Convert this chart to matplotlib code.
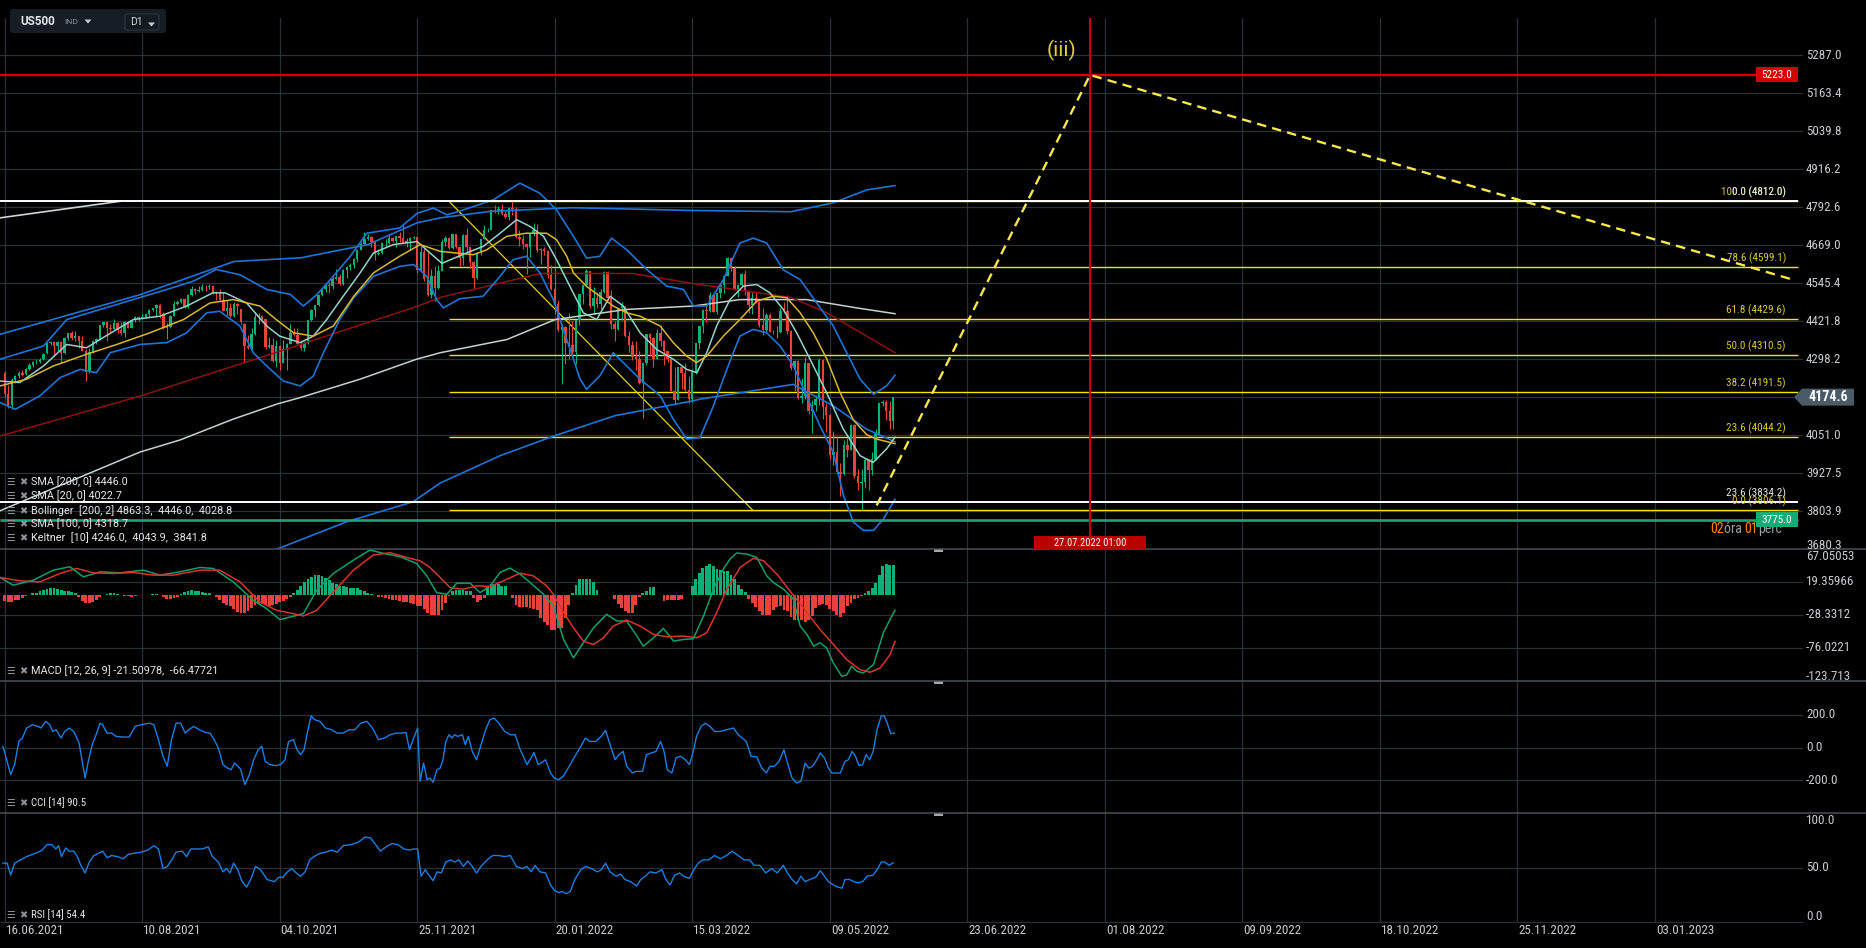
import numpy as np
import matplotlib
matplotlib.use('Agg')
import matplotlib.pyplot as plt
from matplotlib.patches import Rectangle, Polygon, FancyBboxPatch

plt.rcParams['font.family'] = ['Roboto', 'DejaVu Sans']
COND = ['Roboto Condensed', 'Liberation Sans Narrow', 'Roboto', 'DejaVu Sans']

# ---------------- data ----------------
# daily candles, bar 0 = 16.06.2021
opens = [4254, 4185, 4148, 4230, 4242, 4252, 4250, 4266, 4280, 4288,
         4290, 4298, 4318, 4350, 4354, 4340, 4354, 4318, 4366, 4382,
         4366, 4372, 4358, 4326, 4256, 4320, 4356, 4364, 4408, 4418,
         4398, 4396, 4416, 4392, 4384, 4420, 4400, 4426, 4434, 4430,
         4434, 4444, 4458, 4464, 4476, 4446, 4398, 4404, 4440, 4478,
         4484, 4494, 4468, 4506, 4526, 4520, 4522, 4534, 4532, 4536,
         4518, 4512, 4492, 4456, 4466, 4440, 4478, 4460, 4414, 4340,
         4336, 4380, 4434, 4440, 4428, 4338, 4344, 4292, 4342, 4286,
         4330, 4348, 4384, 4376, 4348, 4336, 4350, 4424, 4458, 4474,
         4506, 4526, 4540, 4536, 4558, 4566, 4542, 4588, 4598, 4606,
         4624, 4654, 4674, 4690, 4696, 4678, 4640, 4644, 4676, 4676,
         4694, 4682, 4698, 4692, 4676, 4684, 4694, 4696, 4588, 4648,
         4560, 4506, 4570, 4530, 4586, 4680, 4694, 4660, 4704, 4662,
         4628, 4702, 4662, 4614, 4562, 4642, 4690, 4718, 4720, 4784,
         4780, 4786, 4772, 4760, 4790, 4788, 4696, 4690, 4672, 4664,
         4706, 4720, 4654, 4658, 4650, 4572, 4528, 4478, 4394, 4404,
         4352, 4344, 4320, 4426, 4510, 4540, 4584, 4472, 4496, 4478,
         4516, 4582, 4498, 4412, 4396, 4466, 4470, 4374, 4344, 4304,
         4300, 4220, 4284, 4380, 4368, 4300, 4382, 4358, 4324, 4300,
         4196, 4166, 4272, 4254, 4198, 4168, 4256, 4352, 4406, 4458,
         4456, 4506, 4450, 4514, 4538, 4570, 4626, 4596, 4526, 4540,
         4576, 4520, 4476, 4496, 4484, 4408, 4392, 4442, 4388, 4386,
         4388, 4456, 4454, 4390, 4268, 4292, 4172, 4178, 4284, 4128,
         4150, 4170, 4296, 4142, 4118, 3986, 3996, 3932, 3926, 4020,
         4004, 4084, 3918, 3896, 3898, 3970, 3938, 3974, 4054, 4154,
         4160, 4128, 4098]
highs = [4258, 4215, 4236, 4248, 4258, 4262, 4270, 4284, 4292, 4298,
         4302, 4318, 4352, 4358, 4358, 4358, 4356, 4370, 4384, 4390,
         4390, 4374, 4374, 4330, 4334, 4358, 4368, 4410, 4420, 4420,
         4414, 4428, 4418, 4420, 4422, 4422, 4428, 4438, 4438, 4444,
         4448, 4460, 4466, 4478, 4478, 4452, 4416, 4442, 4488, 4490,
         4498, 4496, 4510, 4536, 4530, 4536, 4544, 4540, 4542, 4538,
         4520, 4526, 4518, 4490, 4482, 4484, 4482, 4462, 4416, 4378,
         4400, 4450, 4448, 4442, 4430, 4370, 4368, 4360, 4344, 4360,
         4350, 4414, 4398, 4400, 4362, 4358, 4426, 4462, 4476, 4508,
         4530, 4542, 4550, 4564, 4590, 4574, 4590, 4600, 4612, 4628,
         4658, 4678, 4712, 4706, 4700, 4680, 4656, 4680, 4690, 4706,
         4696, 4700, 4712, 4736, 4692, 4696, 4700, 4698, 4666, 4660,
         4646, 4590, 4600, 4606, 4688, 4700, 4696, 4706, 4706, 4664,
         4706, 4724, 4664, 4616, 4646, 4690, 4734, 4724, 4784, 4800,
         4798, 4802, 4780, 4792, 4812, 4792, 4720, 4702, 4674, 4708,
         4742, 4738, 4660, 4664, 4652, 4606, 4596, 4490, 4412, 4406,
         4448, 4422, 4426, 4510, 4540, 4590, 4586, 4534, 4516, 4526,
         4584, 4584, 4522, 4422, 4466, 4484, 4472, 4390, 4356, 4356,
         4324, 4290, 4380, 4384, 4370, 4396, 4410, 4360, 4326, 4302,
         4272, 4272, 4274, 4286, 4242, 4266, 4352, 4406, 4460, 4476,
         4516, 4508, 4514, 4540, 4570, 4632, 4628, 4600, 4544, 4578,
         4588, 4522, 4516, 4516, 4486, 4466, 4448, 4448, 4392, 4406,
         4466, 4484, 4506, 4392, 4296, 4294, 4236, 4304, 4286, 4166,
         4180, 4302, 4298, 4154, 4120, 4064, 4046, 3960, 4034, 4042,
         4086, 4086, 3942, 3940, 3978, 3972, 3996, 4072, 4154, 4166,
         4166, 4162, 4176]
lows = [4175, 4140, 4135, 4222, 4236, 4244, 4248, 4262, 4274, 4282,
        4285, 4296, 4316, 4344, 4310, 4326, 4286, 4316, 4362, 4362,
        4358, 4336, 4324, 4228, 4254, 4318, 4346, 4362, 4402, 4358,
        4384, 4394, 4382, 4378, 4370, 4398, 4398, 4420, 4422, 4428,
        4432, 4434, 4456, 4434, 4432, 4396, 4364, 4400, 4438, 4476,
        4480, 4466, 4464, 4504, 4510, 4518, 4520, 4520, 4528, 4510,
        4490, 4490, 4454, 4442, 4432, 4434, 4444, 4414, 4288, 4330,
        4332, 4378, 4414, 4420, 4330, 4336, 4290, 4272, 4262, 4284,
        4262, 4346, 4372, 4346, 4328, 4326, 4348, 4422, 4434, 4472,
        4504, 4516, 4514, 4528, 4556, 4540, 4540, 4562, 4588, 4596,
        4614, 4652, 4672, 4686, 4662, 4622, 4638, 4640, 4664, 4672,
        4678, 4664, 4680, 4676, 4664, 4652, 4690, 4578, 4584, 4552,
        4504, 4498, 4488, 4526, 4584, 4668, 4658, 4656, 4660, 4600,
        4606, 4644, 4594, 4526, 4560, 4638, 4688, 4712, 4718, 4774,
        4772, 4768, 4758, 4752, 4768, 4694, 4666, 4658, 4576, 4632,
        4698, 4646, 4608, 4636, 4562, 4524, 4444, 4390, 4216, 4282,
        4298, 4304, 4282, 4410, 4478, 4538, 4466, 4446, 4466, 4460,
        4514, 4490, 4396, 4358, 4394, 4424, 4370, 4322, 4294, 4262,
        4216, 4108, 4280, 4310, 4274, 4298, 4340, 4278, 4290, 4194,
        4152, 4164, 4200, 4196, 4156, 4160, 4250, 4330, 4384, 4418,
        4452, 4450, 4446, 4496, 4512, 4568, 4584, 4524, 4502, 4534,
        4508, 4448, 4446, 4482, 4404, 4376, 4388, 4386, 4380, 4366,
        4384, 4450, 4380, 4264, 4196, 4170, 4156, 4170, 4120, 4058,
        4130, 4150, 4102, 4062, 3972, 3954, 3924, 3854, 3922, 3980,
        4002, 3910, 3872, 3806, 3880, 3872, 3920, 3970, 4052, 4146,
        4100, 4070, 4070]
closes = [4185, 4150, 4230, 4242, 4252, 4248, 4266, 4280, 4288, 4290,
          4297, 4316, 4350, 4354, 4340, 4354, 4318, 4366, 4382, 4366,
          4372, 4358, 4326, 4256, 4320, 4356, 4364, 4408, 4418, 4398,
          4396, 4416, 4392, 4384, 4420, 4400, 4426, 4434, 4430, 4434,
          4444, 4458, 4464, 4476, 4446, 4398, 4404, 4440, 4478, 4484,
          4494, 4468, 4506, 4526, 4520, 4522, 4534, 4532, 4536, 4518,
          4512, 4492, 4456, 4466, 4440, 4478, 4470, 4420, 4340, 4336,
          4380, 4434, 4440, 4428, 4338, 4344, 4292, 4342, 4286, 4330,
          4348, 4384, 4376, 4348, 4336, 4350, 4424, 4458, 4474, 4506,
          4526, 4540, 4536, 4558, 4566, 4542, 4588, 4598, 4606, 4624,
          4654, 4674, 4690, 4696, 4678, 4640, 4644, 4676, 4676, 4694,
          4682, 4698, 4692, 4676, 4684, 4694, 4696, 4588, 4648, 4560,
          4506, 4570, 4530, 4586, 4680, 4694, 4660, 4704, 4662, 4628,
          4702, 4662, 4614, 4562, 4642, 4690, 4718, 4720, 4784, 4780,
          4786, 4772, 4760, 4790, 4788, 4696, 4690, 4672, 4664, 4706,
          4720, 4654, 4658, 4650, 4572, 4528, 4478, 4394, 4404, 4352,
          4344, 4320, 4426, 4510, 4540, 4584, 4472, 4496, 4478, 4516,
          4582, 4498, 4412, 4396, 4466, 4470, 4374, 4344, 4304, 4300,
          4220, 4284, 4380, 4368, 4300, 4382, 4358, 4324, 4300, 4196,
          4166, 4272, 4254, 4198, 4168, 4256, 4352, 4406, 4458, 4456,
          4506, 4450, 4514, 4538, 4570, 4626, 4596, 4526, 4540, 4576,
          4520, 4476, 4496, 4484, 4408, 4392, 4442, 4388, 4386, 4388,
          4456, 4454, 4390, 4268, 4292, 4172, 4178, 4284, 4128, 4150,
          4170, 4296, 4142, 4118, 3986, 3996, 3932, 3926, 4020, 4004,
          4084, 3918, 3896, 3898, 3970, 3938, 3974, 4054, 4154, 4160,
          4128, 4098, 4174.6]

# overlays on the price panel (bar position, value)
sma200_bars = [-1.3, 38.4, 49.7, 64.8, 77.2, 83.8, 100.8, 116.8, 123.5, 142.4, 156.1, 176.4, 195.3, 208.5, 227.4, 241.6, 252.5]
sma200_vals = [3805, 3996, 4035, 4103, 4152, 4173, 4233, 4298, 4319, 4362, 4427, 4460, 4471, 4492, 4492, 4465, 4446]
sma100_bars = [-1.3, 38.4, 77, 117, 123.5, 152, 178, 197, 201, 223, 233, 252.5]
sma100_vals = [4048, 4178, 4320, 4470, 4499, 4577, 4577, 4541, 4535, 4499, 4450, 4319]
bb_up_bars = [-1.3, 38.4, 65, 84, 103, 117, 123.5, 137.6, 161, 195, 223, 235, 244.5, 252.5]
bb_up_vals = [4379, 4508, 4616, 4628, 4671, 4742, 4758, 4779, 4791, 4782, 4778, 4807, 4849, 4863]
bb_lo_bars = [70, 79, 97, 115.8, 123.5, 140.5, 156, 173, 195, 197.2, 223.6, 235, 244.5, 252.5]
bb_lo_vals = [3650, 3688, 3769, 3834, 3895, 3984, 4049, 4114, 4162, 4168, 4216, 4146, 4070, 4029]
kel_up_bars = [-1.3, 11, 17.6, 31.8, 46, 53.5, 60, 66.7, 74.3, 81,
               84.7, 88.5, 93.2, 98, 102.7, 112, 117, 121.6, 125.4, 129.1,
               138.6, 146.1, 151.8, 156.5, 161.3, 165, 168.8, 172.1, 176.4, 182.1,
               187.7, 192.5, 195.3, 199.1, 203.8, 208.5, 212.3, 216.1, 220.8, 225.6,
               230.3, 235, 238.8, 242.6, 246.4, 250.1, 252.5]
kel_up_vals = [4298, 4341, 4427, 4476, 4525, 4552, 4590, 4573, 4525, 4509,
               4471, 4508, 4568, 4633, 4708, 4725, 4773, 4790, 4768, 4780,
               4817, 4871, 4838, 4784, 4698, 4627, 4633, 4692, 4654, 4590,
               4536, 4525, 4471, 4471, 4557, 4676, 4692, 4676, 4589, 4557,
               4481, 4406, 4319, 4233, 4184, 4211, 4246]
kel_lo_bars = [-1.3, 3, 10, 15.7, 21.4, 26, 29.9, 38.4, 46, 51.6,
               57.3, 61, 66.7, 70.5, 74.3, 79, 83.8, 87.5, 90.4, 95,
               99, 104.6, 112, 116, 119.7, 122.5, 124.4, 129.1, 135.7, 140.5,
               144.2, 148, 151.8, 155.6, 159.4, 163.2, 165, 168.8, 172.6, 176.4,
               180.2, 185.9, 189.6, 193.4, 197.2, 201, 204.8, 208.5, 212.3, 216.1,
               219.9, 223.7, 227.4, 231.2, 235, 237.9, 240.7, 243.5, 246.4, 249.2,
               252.5]
kel_lo_vals = [4157, 4135, 4179, 4238, 4265, 4254, 4319, 4346, 4352, 4384,
               4449, 4454, 4406, 4319, 4276, 4227, 4211, 4243, 4319, 4427,
               4498, 4568, 4600, 4606, 4568, 4492, 4465, 4495, 4503, 4568,
               4622, 4633, 4579, 4492, 4362, 4233, 4200, 4244, 4319, 4276,
               4233, 4179, 4103, 4038, 4043, 4146, 4265, 4373, 4395, 4384,
               4341, 4276, 4179, 4081, 3995, 3854, 3768, 3741, 3741, 3778,
               3842]
kel_mid_bars = [-1.3, 4.3, 11, 17.6, 23.2, 27, 36.5, 44, 51.6, 59,
                62.5, 68.6, 74.3, 78, 83.8, 87.5, 91.3, 96, 100.8, 104.6,
                110.2, 117, 120.6, 124, 131, 135.7, 140.5, 145.2, 149, 152.8,
                156.5, 160.3, 164.1, 167.9, 171.7, 175.4, 180.2, 184.9, 189.6, 193.4,
                196.3, 199.1, 201.9, 205.7, 209.5, 213.3, 217, 220.8, 224.6, 228.4,
                233.1, 237.8, 242.6, 246.3, 250.1, 252.5]
kel_mid_vals = [4227, 4222, 4276, 4346, 4335, 4362, 4427, 4438, 4471, 4514,
                4514, 4481, 4406, 4373, 4352, 4373, 4427, 4503, 4579, 4644,
                4671, 4681, 4644, 4610, 4644, 4665, 4708, 4752, 4730, 4698,
                4622, 4535, 4449, 4427, 4503, 4471, 4384, 4330, 4298, 4265,
                4254, 4319, 4406, 4492, 4536, 4541, 4514, 4460, 4384, 4298,
                4189, 4071, 3984, 3962, 4006, 4044]
sma20_bars = [-1.3, 6.2, 13.8, 23.2, 31.8, 41.2, 50.7, 58.2, 64.8, 72.4,
              77, 81.9, 87.5, 93.2, 99, 104.6, 112, 117.8, 123.5, 132.9,
              136.7, 142.4, 148, 153.7, 156.5, 159.4, 161.3, 165, 168.8, 172.6,
              176.4, 180.2, 185.9, 189.6, 193.4, 196.2, 199.1, 203.8, 208.5, 213.3,
              218, 221.8, 225.6, 229.3, 233.1, 236.9, 240.7, 244.5, 247.3, 250.1,
              252.5]
sma20_vals = [4211, 4233, 4276, 4314, 4346, 4384, 4427, 4481, 4492, 4471,
              4427, 4384, 4373, 4406, 4503, 4579, 4633, 4671, 4649, 4638,
              4654, 4698, 4708, 4708, 4687, 4633, 4579, 4535, 4503, 4471,
              4449, 4438, 4406, 4352, 4308, 4287, 4308, 4373, 4427, 4487,
              4503, 4498, 4449, 4384, 4300, 4190, 4100, 4052, 4038, 4030,
              4023]

# drawings
fib_levels = [100.0, 78.6, 61.8, 50.0, 38.2, 23.6, 0.0]
fib_prices = [4812.0, 4599.1, 4429.6, 4310.5, 4191.5, 4044.2, 3806.1]
fib_start_bar = 126
fib_diag_bars = [126, 212.2]
fib_diag_vals = [4812.0, 3806.1]
white_levels = [0.0, 23.6]
white_prices = [4812.0, 3834.2]
trend_bars = [-1.3, 32.8]
trend_vals = [4758, 4812]
red_level = 5223.0
green_level = 3775.0
last_price = 4174.6
proj_bars = [247.3, 307.8, 507.7]
proj_vals = [3822, 5223, 4555]
target_bar = 307.8
target_label = '27.07.2022 01:00'
wave_bar, wave_val = 299.6, 5304

# MACD panel
macd_hist = [-8, -10, -9, -7, -6, -4, -1, 1, 3, 4,
             6, 8, 9, 10, 10, 9, 8, 7, 6, 5,
             3, -2, -8, -11, -11, -9, -6, -3, 1, 2,
             3, 3, 2, 1, -1, -1, -2, -1, 0, 0,
             0, 0, 2, 2, 1, -3, -5, -5, -4, -2,
             2, 5, 7, 8, 7, 6, 5, 4, 3, 1,
             -3, -7, -11, -14, -16, -20, -24, -26, -25, -22,
             -18, -14, -12, -13, -14, -15, -14, -12, -10, -8,
             -5, -2, 3, 8, 14, 20, 24, 27, 29, 29,
             28, 25, 22, 18, 16, 14, 13, 12, 11, 11,
             10, 8, 6, 4, 2, 1, -2, -3, -4, -5,
             -6, -7, -8, -9, -10, -11, -13, -15, -16, -20,
             -26, -29, -29, -29, -21, -11, -1.5, 6, 8, 8,
             8, 6, 7, -4, -10, -6, -4, 13, 16.5, 16.5,
             16, 14, 13, 1, -4, -13.5, -17, -17, -17, -18,
             -19, -21, -33, -38, -43, -50, -50, -47, -47, -33,
             -13.5, 3.4, 15.5, 23, 23, 23, 23, 20, 8, 0,
             0, 0, 0, -5, -12, -18, -23, -25, -25, -13.5,
             -3, 3, 7, 11.6, 11.6, 1, 0, -8.7, -6, -6,
             -6, -6, -5, 0, 0, 13, 23, 32, 40, 43,
             46, 42, 38, 36, 35, 35, 30, 23, 15.5, 9,
             4.4, -5.3, -11, -17, -23, -29, -29, -28, -21, -17,
             -16, -21, -23, -30.5, -36, -36, -36, -38, -35, -30,
             -18, -14, -12, -14, -20, -23, -28, -31.5, -25.7, -16,
             -11, -5, -4, -1.5, 3, 6, 10.6, 18, 30, 43,
             46, 44.5, 44.5]
macd_bars = [-1.3, 2.4, 8.1, 13.8, 18.5, 22.3, 27, 32.7, 39.3, 44,
             49.7, 55.4, 59.2, 64.8, 70.5, 74.3, 78.1, 80.9, 84.7, 88.5,
             93.2, 98.9, 103.6, 107.4, 112.1, 116.8, 119.7, 122.5, 125.4, 128.2,
             132, 134.8, 137.7, 140.5, 143.3, 146.2, 149, 152.8, 155.6, 158.5,
             161.3, 164.1, 167, 170.7, 173.6, 176.4, 179.3, 181.1, 184, 186.8,
             189.7, 192.5, 195.3, 198.2, 201, 203.8, 205.7, 207.6, 210.4, 213.3,
             216.1, 218, 220.9, 223.7, 225.6, 227.5, 229.4, 231.2, 233.1, 235,
             237.4, 238.8, 240.2, 241.7, 243.5, 246.4, 249.2, 251.1, 252.5]
macd_vals = [25.9, 14.7, 22, 36.5, 41.4, 26.8, 34, 32.6, 36.5, 29.3,
             34.1, 40.4, 38.9, 19.6, -7.1, -19.2, -35.1, -31.3, -26.4, 7.5,
             31.7, 51, 65.6, 60.7, 55.9, 46.2, 28.3, 4, 1.7, 17.7,
             17.7, 4, 13.8, 33.2, 39.5, 30.7, 18.6, 1.7, -15.3, -63.7,
             -90.3, -68.5, -46.7, -27.4, -37, -37, -58.8, -73.4, -61.3, -47.7,
             -66.1, -63.7, -62.7, -29.8, 8.9, 38, 52.5, 61.2, 59.8, 54.9,
             28.3, 18.6, 8.9, -5.6, -44.3, -56.4, -73.4, -68.5, -75.8, -97.6,
             -116.9, -115, -102.4, -109.7, -112.1, -100, -54, -34.6, -21.5]
sig_bars = [-1.3, 4.3, 10, 15.7, 20.4, 25.1, 30.8, 36.5, 42.2, 47.8,
            55.4, 61, 66.7, 72.4, 77.1, 81.9, 84.7, 88.5, 93.2, 98.9,
            104.5, 109.3, 115, 117.8, 120.6, 123.5, 126.3, 130.1, 133.9, 137.7,
            141.4, 146.2, 149.9, 153.7, 155.6, 158.5, 161.3, 164.1, 167, 169.8,
            172.6, 176.4, 180.2, 184, 187.8, 192.5, 196.3, 199.1, 201.9, 204.8,
            208.6, 212.3, 215.2, 219, 222.7, 226.5, 231.2, 235, 238.8, 242.6,
            245.4, 248.3, 251.1, 252.5]
sig_vals = [25.9, 21, 19.6, 31.7, 39, 32.6, 31.7, 33.1, 29.3, 29.3,
            36.5, 36.5, 19.6, -9.5, -21.6, -26.4, -29.8, -21.6, 5, 36.5,
            58.3, 61.7, 53.5, 50, 40.4, 25.9, 11.4, 9, 13.8, 12.8,
            21, 32.2, 28.3, 13.8, 1.7, -24.9, -46.7, -66.1, -71, -61.3,
            -44.3, -35.6, -44.3, -56.4, -59.8, -58.8, -61.3, -54, -25, 8.9,
            40.4, 53.5, 50.1, 30.7, 6.5, -17.7, -49.1, -70.9, -92.7, -107.3,
            -111.1, -104.8, -85.5, -66.5]

# CCI panel
cci_bars = [-0.5, 1.7, 2.8, 4.0, 5.0, 6.2, 7.8, 9.5, 10.3, 11.6,
            12.8, 13.6, 14.6, 16.0, 17.0, 18.3, 19.6, 21.1, 22.8, 23.6,
            24.8, 26.1, 27.0, 27.8, 29.0, 30.3, 31.6, 33.6, 35.3, 37.0,
            38.6, 41.1, 42.3, 43.6, 44.9, 46.1, 47.3, 48.6, 49.9, 51.2,
            52.2, 53.6, 55.2, 56.9, 58.2, 59.4, 60.6, 61.9, 63.2, 64.2,
            65.2, 66.9, 68.1, 69.4, 70.6, 71.9, 72.9, 73.9, 75.2, 76.9,
            78.2, 79.5, 80.5, 81.9, 82.9, 83.9, 84.9, 85.9, 86.9, 87.9,
            89.4, 91.0, 92.7, 94.3, 96.0, 97.7, 99.3, 101.0, 102.7, 104.3,
            106.0, 107.7, 109.3, 111.0, 112.7, 113.8, 114.8, 116.0, 117.1, 117.8,
            118.8, 119.8, 120.6, 121.5, 122.6, 123.5, 124.3, 125.1, 126.0, 126.8,
            127.6, 128.5, 129.8, 130.6, 131.5, 132.6, 133.8, 135.1, 136.4, 137.6,
            138.8, 140.1, 141.8, 143.4, 144.8, 146.0, 147.1, 148.1, 149.3, 150.1,
            151.3, 152.1, 153.4, 154.8, 155.9, 157.1, 158.4, 160.1, 161.7, 163.4,
            164.7, 165.9, 167.6, 169.2, 170.4, 171.7, 173.1, 174.2, 175.4, 176.4,
            178.0, 179.2, 180.9, 182.0, 183.4, 184.7, 186.0, 187.0, 187.9, 189.2,
            190.4, 191.7, 193.0, 194.2, 195.4, 196.2, 197.5, 198.7, 200.0, 201.3,
            203.0, 204.7, 206.7, 208.0, 209.2, 210.3, 211.7, 213.3, 214.7, 216.0,
            217.0, 218.3, 219.6, 221.0, 222.0, 223.3, 224.6, 225.8, 227.0, 228.0,
            229.1, 230.3, 231.3, 232.5, 233.6, 234.6, 235.8, 237.0, 238.3, 239.3,
            240.3, 241.3, 242.3, 243.3, 244.3, 245.3, 246.3, 247.4, 248.6, 249.4,
            250.3, 251.3, 252.3]
cci_vals = [8, -165, -104, 38, 59, 120, 140, 130, 120, 161,
            140, 99, 110, 59, 99, 120, 99, 28, -186, -94,
            18, 89, 150, 140, 89, 89, 69, 65, 65, 130,
            140, 150, 140, 49, -53, -114, 49, 150, 150, 89,
            110, 130, 110, 93, 89, 49, -2, -104, -125, -135,
            -94, -131, -226, -165, -74, -13, 8, -84, -104, -110,
            -104, -74, 38, 49, -13, -43, -13, 99, 195, 171,
            161, 120, 110, 89, 89, 110, 110, 150, 161, 120,
            49, 59, 79, 89, 89, 93, -13, 59, 120, -206,
            -94, -196, -186, -212, -135, -125, -74, 38, 79, 59,
            79, 69, 79, 18, 69, -23, -74, 18, 110, 171,
            181, 150, 99, 79, 79, -2, -53, -104, -63, -29,
            -104, -94, -74, -155, -186, -196, -175, -114, -53, 8,
            59, 38, 38, 69, 106, 18, -74, -43, -23, -114,
            -155, -145, -145, -43, -33, -23, 38, -23, -135, -155,
            -63, -53, -74, -104, -13, 69, 130, 150, 130, 99,
            99, 110, 120, 79, 59, 38, -53, -57, -125, -155,
            -114, -114, -84, -13, -94, -186, -216, -206, -94, -125,
            -114, -74, -33, -63, -125, -155, -155, -155, -84, -74,
            -23, -53, -110, -104, -43, -74, -23, 110, 195, 195,
            150, 85, 90]

# RSI panel
rsi_bars = [-0.5, 0.7, 1.7, 2.8, 4.5, 6.2, 7.8, 9.5, 10.6, 12.0,
            13.3, 14.5, 15.3, 16.1, 17.3, 18.3, 19.6, 20.6, 21.6, 22.8,
            24.0, 25.3, 26.6, 27.8, 29.0, 30.3, 32.0, 33.6, 35.0, 36.6,
            38.6, 40.6, 42.3, 43.6, 44.9, 46.1, 47.4, 48.6, 50.3, 51.6,
            52.8, 54.4, 56.1, 57.7, 58.9, 60.6, 61.9, 62.9, 63.9, 64.9,
            66.1, 67.2, 68.6, 69.9, 71.1, 72.2, 73.2, 74.4, 75.5, 76.5,
            77.7, 78.9, 80.2, 81.4, 82.7, 83.9, 85.2, 86.5, 87.7, 89.4,
            91.0, 92.7, 94.3, 96.0, 98.2, 100.2, 102.2, 103.8, 105.2, 106.5,
            108.2, 109.8, 111.5, 113.2, 114.8, 116.0, 117.1, 118.1, 119.3, 120.5,
            121.5, 122.6, 123.8, 125.1, 126.5, 127.6, 128.8, 130.1, 131.3, 132.6,
            133.8, 135.1, 136.8, 138.4, 140.1, 141.8, 143.4, 145.1, 146.8, 148.1,
            149.3, 150.4, 151.8, 153.4, 154.8, 155.9, 157.1, 158.1, 159.3, 160.4,
            161.7, 163.4, 164.7, 166.4, 168.1, 169.2, 170.4, 171.7, 173.4, 174.7,
            175.9, 177.5, 179.2, 180.4, 181.7, 183.0, 184.7, 186.4, 187.5, 188.7,
            190.0, 191.4, 192.5, 194.2, 195.4, 196.7, 198.0, 199.7, 201.3, 203.0,
            204.7, 206.3, 208.0, 209.7, 211.3, 212.5, 214.2, 215.8, 217.5, 219.1,
            220.8, 222.0, 223.3, 224.6, 225.8, 227.0, 228.3, 230.0, 231.3, 232.5,
            233.6, 235.0, 236.3, 237.5, 238.3, 239.6, 240.8, 242.0, 243.3, 244.6,
            246.3, 247.4, 248.6, 249.6, 250.8, 252.0]
rsi_vals = [54, 54, 43, 54, 57, 60, 62, 64, 66, 71,
            71, 67, 70, 60, 68, 65, 65, 60, 52, 45,
            55, 61, 63, 65, 59, 61, 60, 58, 62, 63,
            64, 66, 70, 67, 49, 51, 57, 64, 65, 60,
            67, 67, 67, 69, 60, 55, 46, 49, 45, 54,
            48, 38, 32, 40, 51, 49, 45, 39, 38, 37,
            41, 41, 46, 49, 45, 42, 46, 57, 60, 63,
            64, 66, 64, 70, 71, 73, 78, 77, 71, 65,
            69, 72, 71, 67, 66, 67, 67, 42, 48, 42,
            38, 46, 45, 55, 57, 55, 57, 51, 56, 51,
            45, 51, 57, 61, 61, 60, 61, 51, 49, 51,
            46, 52, 46, 45, 34, 29, 27, 28, 26, 28,
            39, 48, 51, 49, 46, 48, 54, 46, 42, 44,
            39, 37, 33, 39, 42, 46, 45, 48, 39, 34,
            43, 45, 42, 40, 48, 54, 57, 57, 61, 58,
            61, 65, 61, 57, 57, 52, 52, 45, 49, 45,
            52, 45, 39, 35, 42, 37, 39, 41, 47, 42,
            37, 34, 32, 31, 39, 39, 37, 36, 37, 42,
            43, 48, 55, 55, 52, 54.4]

# axes labels
grid_bars = [0, 39, 78, 117, 156, 195, 234, 273, 312, 351, 390, 429, 468]
date_labels = ['16.06.2021', '10.08.2021', '04.10.2021', '25.11.2021', '20.01.2022',
               '15.03.2022', '09.05.2022', '23.06.2022', '01.08.2022', '09.09.2022',
               '18.10.2022', '25.11.2022', '03.01.2023']
price_ticks = [5287.0, 5163.4, 5039.8, 4916.2, 4792.6, 4669.0, 4545.4,
               4421.8, 4298.2, 4174.6, 4051.0, 3927.5, 3803.9, 3680.3]
macd_ticks = [67.05053, 19.35966, -28.3312, -76.0221, -123.713]
macd_tick_labels = ['67.05053', '19.35966', '-28.3312', '-76.0221', '-123.713']
cci_ticks = [200.0, 0.0, -200.0]
rsi_ticks = [100.0, 50.0, 0.0]
legend_rows = ['SMA [200, 0] 4446.0', 'SMA [20, 0] 4022.7',
               'Bollinger  [200, 2] 4863.3,  4446.0,  4028.8',
               'SMA [100, 0] 4318.7', 'Keltner  [10] 4246.0,  4043.9,  3841.8']

# ---------------- layout / style ----------------
W, H = 1866, 948
PX_BAR = 3.526
X0 = 4.7
XMIN = -X0 / PX_BAR
XMAX = (1803 - X0) / PX_BAR
LINE_END = (1798 - X0) / PX_BAR
GRID = '#283038'
TXT = '#c9cccf'
GREEN = '#10ae78'
RED = '#e8433a'

fig = plt.figure(figsize=(W / 100, H / 100), dpi=100, facecolor='black')


def panel(top, bottom, ylim, hgrid):
    a = fig.add_axes([0, 1 - bottom / H, 1803 / W, (bottom - top) / H])
    a.set_facecolor('black')
    a.set_xlim(XMIN, XMAX)
    a.set_ylim(*ylim)
    a.set_xticks([])
    a.set_yticks([])
    for s in a.spines.values():
        s.set_visible(False)
    for b in grid_bars:
        a.axvline(b, color=GRID, lw=0.9, zorder=0)
    for v in hgrid:
        a.axhline(v, color=GRID, lw=0.9, zorder=0)
    return a


ax = panel(18, 549, (3680.3, 5408.4), price_ticks[:-1])
ax_macd = panel(549, 681, (-123.713, 67.05053), macd_ticks[1:-1])
ax_cci = panel(681, 813, (-400, 408), cci_ticks)
ax_rsi = panel(813, 922, (0, 100), rsi_ticks[1:-1])

## price panel
o, h, l, c = (np.array(v, dtype=float) for v in (opens, highs, lows, closes))
idx = np.arange(len(c))
cols = np.where(c >= o, GREEN, RED)
ax.vlines(idx, l, h, colors=cols, lw=0.8, zorder=3)
ax.bar(idx, np.maximum(np.abs(c - o), 1.5), bottom=np.minimum(o, c), width=0.68,
       color=cols, lw=0, zorder=3)

for p in fib_prices:
    ax.hlines(p, fib_start_bar, LINE_END, color='#f3e600', lw=1.0, zorder=2)
ax.plot(fib_diag_bars, fib_diag_vals, color='#e6d200', lw=0.9, zorder=2)
for p in white_prices:
    ax.hlines(p, XMIN, LINE_END, color='white', lw=1.4, zorder=5)
ax.plot(trend_bars, trend_vals, color='#d0d4d6', lw=1.2, zorder=4)
ax.hlines(red_level, XMIN, LINE_END, color='#d40000', lw=1.7, zorder=5)
ax.hlines(green_level, XMIN, LINE_END, color='#0fa878', lw=1.9, zorder=5)
ax.axvline(target_bar, color='#c40000', lw=1.5, zorder=5)

ax.plot(sma200_bars, sma200_vals, color='#c4d2d2', lw=1.1, zorder=4)
ax.plot(sma100_bars, sma100_vals, color='#8e1010', lw=1.1, zorder=4)
ax.plot(bb_up_bars, bb_up_vals, color='#1d74d6', lw=1.2, zorder=4)
ax.plot(bb_lo_bars, bb_lo_vals, color='#1d74d6', lw=1.2, zorder=4)
ax.plot(kel_up_bars, kel_up_vals, color='#1d74d6', lw=1.2, zorder=4)
ax.plot(kel_lo_bars, kel_lo_vals, color='#1d74d6', lw=1.2, zorder=4)
ax.plot(kel_mid_bars, kel_mid_vals, color='#96d2cc', lw=1.1, zorder=4)
ax.plot(sma20_bars, sma20_vals, color='#d8b82c', lw=1.1, zorder=4)

ax.plot(proj_bars, proj_vals, color='#f8e84a', lw=1.7, dashes=(4, 2.6), zorder=6)
ax.text(wave_bar, wave_val, '(iii)', color='#e4ce3a', fontsize=15, ha='center',
        va='center', family=['Roboto', 'DejaVu Sans'])

## MACD
hist = np.array(macd_hist, dtype=float)
ax_macd.bar(idx, hist, width=0.8, color=np.where(hist >= 0, GREEN, RED), lw=0, zorder=2)
ax_macd.plot(macd_bars, macd_vals, color='#119e6a', lw=1.1, zorder=3)
ax_macd.plot(sig_bars, sig_vals, color='#d9342c', lw=1.1, zorder=3)

## CCI / RSI
ax_cci.plot(cci_bars, cci_vals, color='#1b7ee0', lw=1.0, zorder=3)
ax_rsi.plot(rsi_bars, rsi_vals, color='#1b7ee0', lw=1.0, zorder=3)

# ---------------- overlay (labels, tags) ----------------
ov = fig.add_axes([0, 0, 1, 1], zorder=10)
ov.set_xlim(0, W)
ov.set_ylim(H, 0)
ov.axis('off')
ov.patch.set_alpha(0)


def ypx(a, v):
    return H - a.transData.transform((0, v))[1]


def xpx(a, b):
    return a.transData.transform((b, 0))[0]


ov.hlines([549, 681, 813], 0, W, color='#4a5058', lw=1.1)
ov.hlines(922, 0, 1803, color=GRID, lw=0.9)
for y in (549, 681, 813):
    ov.add_patch(Rectangle((934, y), 9, 2.5, color='#a3a8ad', lw=0))


def rlabel(a, v, s, dy=0, **kw):
    ov.text(1806, ypx(a, v) + dy, s, color=TXT, fontsize=9.4, family=COND,
            ha='left', va='center', **kw)


for v in price_ticks:
    if v == last_price:
        continue
    rlabel(ax, v, f'{v:.1f}', dy=-4 if v == price_ticks[-1] else 0)
for v, s in zip(macd_ticks, macd_tick_labels):
    dy = 7.5 if v == macd_ticks[0] else (-4 if v == macd_ticks[-1] else 0)
    rlabel(ax_macd, v, s, dy=dy)
for v in cci_ticks:
    rlabel(ax_cci, v, f'{v:.1f}')
for v in rsi_ticks:
    dy = 8 if v == rsi_ticks[0] else (-5 if v == rsi_ticks[-1] else 0)
    rlabel(ax_rsi, v, f'{v:.1f}', dy=dy)

for b, s in zip(grid_bars, date_labels):
    ov.text(xpx(ax, b) + 1, 931, s, color=TXT, fontsize=9.4, family=COND,
            ha='left', va='center')

# fib labels
for lvl, p in zip(fib_levels, fib_prices):
    ov.text(1786, ypx(ax, p) - 3, f'{lvl:.1f} ({p:.1f})', color='#d9c935',
            fontsize=8, family=COND, ha='right', va='bottom')
for lvl, p in zip(white_levels, white_prices):
    ov.text(1786, ypx(ax, p) - 3, f'{lvl:.1f} ({p:.1f})', color='#e2e4e6',
            fontsize=8, family=COND, ha='right', va='bottom')

# countdown text (partly under the green tag)
renderer = fig.canvas.get_renderer()
cx = 1710
for s, col in [('02', '#ff8a00'), ('óra ', '#9aa0a6'), ('01', '#ff8a00'), ('perc', '#9aa0a6')]:
    t = ov.text(cx, 529, s, color=col, fontsize=10, family=COND, ha='left', va='center')
    cx += t.get_window_extent(renderer).width

# price tags
y = ypx(ax, red_level)
ov.add_patch(Rectangle((1756, y - 7.5), 42, 15, color='#d50000', lw=0, zorder=3))
ov.text(1777, y, f'{red_level:.1f}', color='white', fontsize=8, family=COND,
        ha='center', va='center', zorder=4)
y = ypx(ax, green_level)
ov.add_patch(Rectangle((1756, y - 7.5), 42, 15, color='#0fae78', lw=0, zorder=3))
ov.text(1777, y, f'{green_level:.1f}', color='white', fontsize=8, family=COND,
        ha='center', va='center', zorder=4)
y = ypx(ax, last_price)
ov.add_patch(Polygon([(1794, y), (1802, y - 8.5), (1854, y - 8.5), (1854, y + 8.5), (1802, y + 8.5)],
                     closed=True, color='#4a5a66', lw=0, zorder=3))
ov.text(1828, y, f'{last_price:.1f}', color='white', fontsize=10, fontweight='bold',
        family=COND, ha='center', va='center', zorder=4)
tx = xpx(ax, target_bar)
ov.add_patch(Rectangle((tx - 56, 536), 112, 13, color='#b80000', lw=0, zorder=3))
ov.text(tx, 542.5, target_label, color='white', fontsize=7.5, family=COND,
        ha='center', va='center', zorder=4)

# symbol box
ov.add_patch(FancyBboxPatch((10, 9), 156, 24, boxstyle='round,pad=0,rounding_size=3',
                            fc='#161d24', ec='none'))
ov.text(20, 21.5, 'US500', color='#e2e5e8', fontsize=8.5, fontweight='bold', va='center')
ov.text(64, 22, 'IND', color='#8a9299', fontsize=6, va='center')
ov.add_patch(Polygon([(84.5, 19.5), (91.5, 19.5), (88, 23.5)], closed=True, color='#c8ccd0', lw=0))
ov.add_patch(FancyBboxPatch((125, 14), 34, 16, boxstyle='round,pad=0,rounding_size=2',
                            fc='#131a20', ec='#2c363e', lw=0.8))
ov.text(130, 22, 'D1', color='#d6dadd', fontsize=7.5, va='center')
ov.add_patch(Polygon([(148, 22.5), (155, 22.5), (151.5, 26.5)], closed=True, color='#c8ccd0', lw=0))

# indicator legends


def legend(y, s, cond=False):
    ov.text(6, y, '☰', color='#8e949a', fontsize=7, va='center', family=['DejaVu Sans'])
    ov.text(19, y, '✖', color='#8e949a', fontsize=7, va='center', family=['DejaVu Sans'])
    ov.text(31, y, s, color='#e6e8ea', fontsize=7.8, va='center',
            family=COND if cond else ['Roboto', 'DejaVu Sans'])


for yy, s in zip([482, 496, 511, 524, 538], legend_rows):
    legend(yy, s)
legend(671, 'MACD [12, 26, 9] -21.50978,  -66.47721')
legend(803, 'CCI [14] 90.5', cond=True)
legend(915, 'RSI [14] 54.4', cond=True)

fig.savefig('out.png', dpi=100, facecolor='black')
